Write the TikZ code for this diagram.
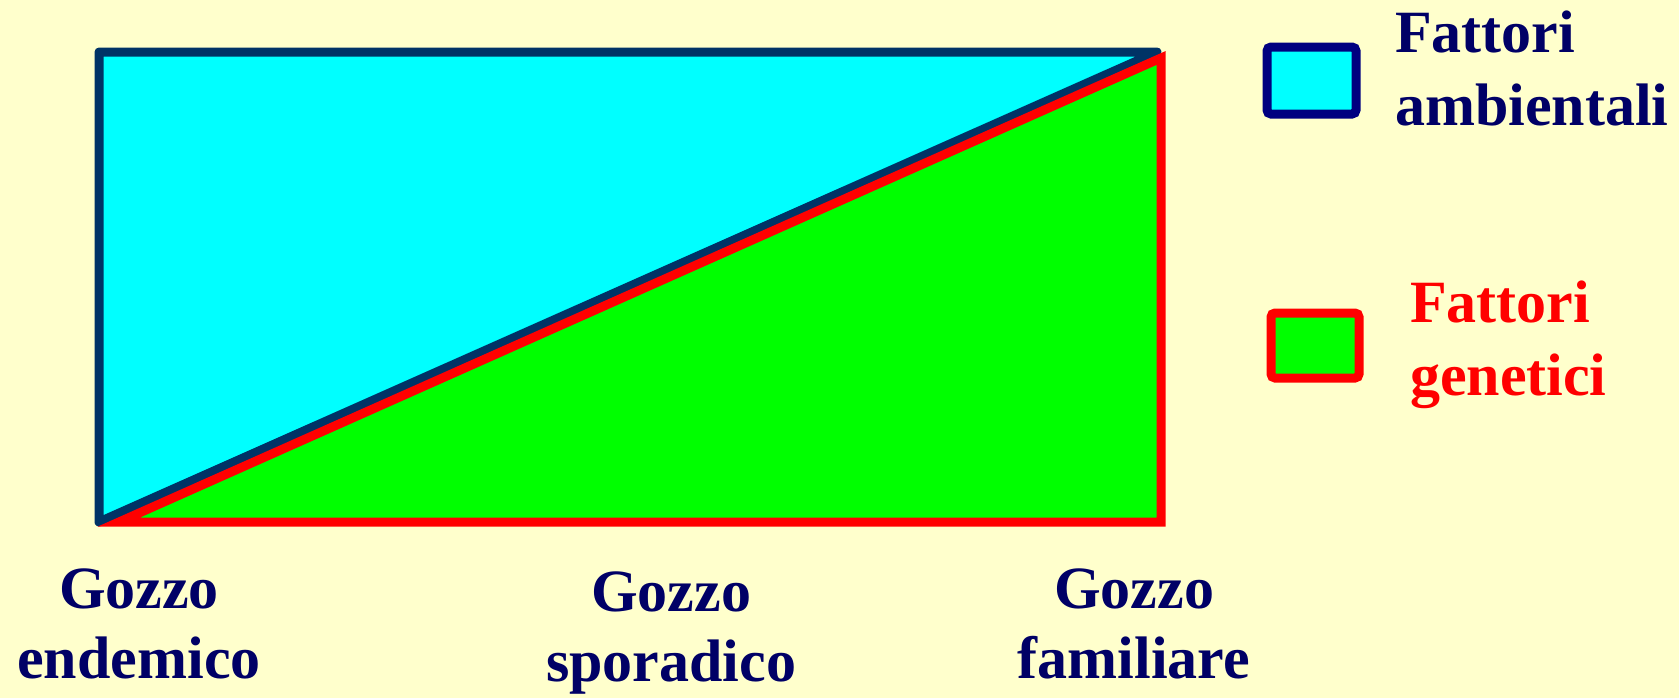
\documentclass[tikz,border=0pt]{standalone}
\usepackage{fontspec}
\setmainfont{Liberation Serif}
\definecolor{bgyellow}{HTML}{FFFFCC}
\definecolor{boxcyan}{HTML}{00FFFF}
\definecolor{boxgreen}{HTML}{00FF00}
\definecolor{boxred}{HTML}{FF0000}
\definecolor{darkline}{HTML}{003366}
\definecolor{legnavy}{HTML}{000080}
\definecolor{textnavy}{HTML}{000066}
\tikzset{
  lbl/.style={font=\bfseries\fontsize{30}{35}\selectfont, inner sep=0pt, outer sep=0pt},
  leglbl/.style={font=\bfseries\fontsize{30}{36.3}\selectfont, inner sep=0pt, outer sep=0pt},
  envshape/.style={fill=boxcyan, draw=darkline, line width=4.5pt, line join=round},
  genshape/.style={fill=boxgreen, draw=boxred, line width=4.5pt, line join=miter},
}
\begin{document}
\begin{tikzpicture}[x=0.5pt,y=-0.5pt]
\fill[bgyellow] (0,0) rectangle (1679,698);
\useasboundingbox (0,0) rectangle (1679,698);
% main diagram
\coordinate (tl) at (99,52);
\coordinate (tr) at (1157,52);
\coordinate (bl) at (99,522);
\coordinate (gbl) at (119,522);
\coordinate (gtr) at (1161,58);
\coordinate (gbr) at (1161,522);
\draw[envshape] (tl) -- (tr) -- (bl) -- cycle;
\draw[genshape] (gbl) -- (gtr) -- (gbr) -- cycle;
% legend
\draw[fill=boxcyan, draw=legnavy, line width=4.5pt, rounded corners=2pt] (1267,47) rectangle (1356,114);
\draw[fill=boxgreen, draw=boxred, line width=4.5pt, rounded corners=2pt] (1271,313) rectangle (1359,378);
\node[leglbl, text=textnavy, anchor=base west, align=left] (amb) at (1395,125) {Fattori\\ambientali};
\node[leglbl, text=boxred, anchor=base west, align=left] (gen) at (1410,395) {Fattori\\genetici};
% bottom labels
\node[lbl, text=textnavy, anchor=base, align=center] (end) at (139,678) {Gozzo\\endemico};
\node[lbl, text=textnavy, anchor=base, align=center] (spo) at (671,681) {Gozzo\\sporadico};
\node[lbl, text=textnavy, anchor=base, align=center] (fam) at (1134,678) {Gozzo\\familiare};
\end{tikzpicture}
\end{document}
